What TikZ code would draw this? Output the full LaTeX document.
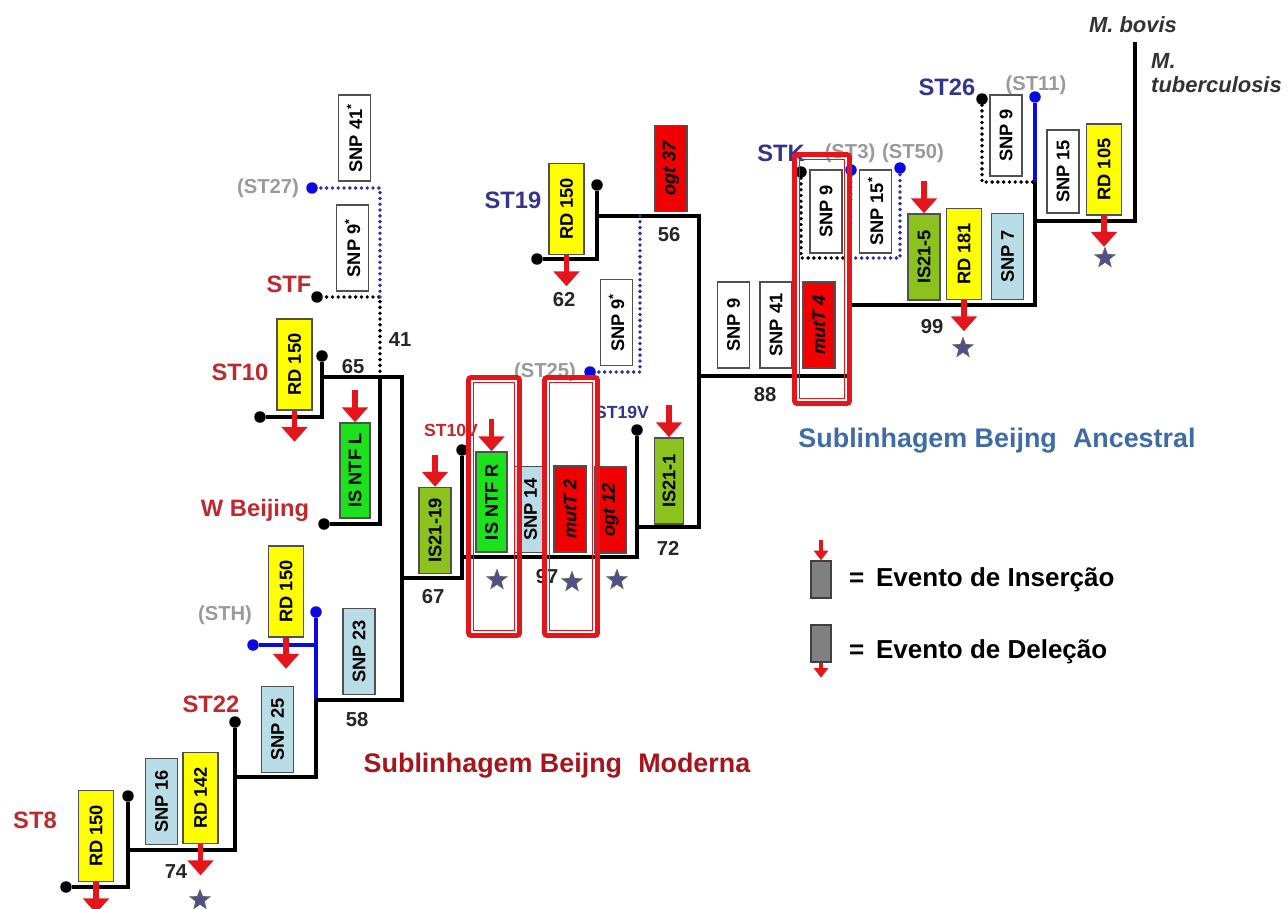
\documentclass[tikz,border=0pt]{standalone}
\usepackage{fontspec}
\setmainfont{Liberation Sans}
\usepackage{tikz}
\usetikzlibrary{arrows.meta,shapes.geometric}
\definecolor{stred}{HTML}{C0282D}
\definecolor{stnavy}{HTML}{34348F}
\definecolor{stgray}{HTML}{9A9A9A}
\definecolor{rdyellow}{HTML}{FFFF00}
\definecolor{snpblue}{HTML}{B8DDE6}
\definecolor{isgreen}{HTML}{1BE21B}
\definecolor{isolive}{HTML}{8CC21E}
\definecolor{mutred}{HTML}{F00000}
\definecolor{boxedge}{HTML}{505050}
\definecolor{dotblue}{HTML}{3030A8}
\definecolor{lineblue}{HTML}{0A0AE0}
\definecolor{starblue}{HTML}{4F4F8C}
\definecolor{modred}{HTML}{A8141C}
\definecolor{ancblue}{HTML}{3F6BA6}
\definecolor{hlred}{HTML}{E5161B}
\newcommand{\boxfont}{\fontsize{10.4}{12}\selectfont\bfseries}
\newcommand{\labfont}{\fontsize{13.5}{15}\selectfont\bfseries}

\begin{document}
\begin{tikzpicture}[x=0.02cm,y=-0.02cm,
    box/.style={draw=boxedge,line width=0.9pt,rotate=90,minimum width=1.72cm,
      minimum height=0.64cm,inner sep=0pt,font=\boxfont},
    rd/.style={box,fill=rdyellow,minimum width=1.82cm,minimum height=0.7cm},
    snp/.style={box,fill=white},
    snpb/.style={box,fill=snpblue},
    isg/.style={box,fill=isgreen},
    iso/.style={box,fill=isolive},
    mut/.style={box,fill=mutred,font=\boxfont\itshape},
    leaf/.style={circle,fill=black,inner sep=0pt,minimum size=0.23cm},
    bleaf/.style={leaf,fill=lineblue},
    branch/.style={line width=2.3pt},
    bbranch/.style={branch,lineblue},
    dotbranch/.style={line width=2.2pt,line cap=round,dash pattern=on 0pt off 3.3pt},
    bdotbranch/.style={dotbranch,dotblue},
    delarrow/.style={draw=hlred,line width=2.9pt,-{Triangle[width=14.5pt,length=8.5pt]}},
    insarrow/.style={delarrow},
    legarrow/.style={draw=hlred,line width=1.8pt,-{Triangle[width=8pt,length=5.5pt]}},
    legbox/.style={draw=black!75,line width=0.8pt,fill=black!50,minimum width=0.4cm,
      minimum height=0.74cm,inner sep=0pt},
    sstar/.style={star,star points=5,star point ratio=2.4,fill=starblue,draw=black!60,
      line width=0.4pt,minimum size=0.42cm,inner sep=0pt},
    redlab/.style={text=stred,font=\labfont},
    navylab/.style={text=stnavy,font=\labfont},
    graylab/.style={text=stgray,font=\fontsize{11.5}{13}\selectfont\bfseries},
    smalllab/.style={font=\fontsize{10}{12}\selectfont\bfseries},
    num/.style={text=black!85,font=\fontsize{11.5}{13}\selectfont\bfseries},
    hlout/.style={draw=hlred,line width=2.8pt,rounded corners=1.5pt},
    hlin/.style={draw=hlred,line width=0.8pt}]
  \fill[white] (0,0) rectangle (1288,909);
  \useasboundingbox (0,0) rectangle (1288,909);

  % leaves
  \node[leaf] (st8a) at (66,887) {};
  \node[leaf] (st8b) at (128,796) {};
  \node[leaf] (st22) at (235,722) {};
  \node[bleaf] (sthb) at (316,612) {};
  \node[bleaf] (stha) at (253,645) {};
  \node[leaf] (st10a) at (260,417) {};
  \node[leaf] (st10b) at (322,356) {};
  \node[leaf] (wbj) at (324,524) {};
  \node[leaf] (stf) at (317,297) {};
  \node[bleaf] (st27) at (312,188) {};
  \node[leaf] (st10v) at (462,450) {};
  \node[leaf] (st19v) at (637,430) {};
  \node[leaf] (st19a) at (537,259) {};
  \node[leaf] (st19b) at (597,185) {};
  \node[bleaf] (st25) at (590,372) {};
  \node[leaf] (stk) at (801,172) {};
  \node[bleaf] (st3) at (851,170) {};
  \node[bleaf] (st50) at (900,168) {};
  \node[leaf] (st26) at (982,99) {};
  \node[bleaf] (st11) at (1035,97) {};
  \coordinate (mtb) at (1135,42);

  % junctions
  \coordinate (j74) at (128,850);
  \coordinate (j22) at (235,777);
  \coordinate (j58) at (316,700);
  \coordinate (jh) at (316,645);
  \coordinate (j65) at (402,377);
  \coordinate (j10) at (322,377);
  \coordinate (jwb) at (380,377);
  \coordinate (j41) at (380,297);
  \coordinate (j67) at (402,578);
  \coordinate (j97) at (462,557);
  \coordinate (j72) at (637,527);
  \coordinate (j56) at (699,216);
  \coordinate (j19) at (597,216);
  \coordinate (j25) at (640,216);
  \coordinate (j88) at (699,376);
  \coordinate (j99) at (850,305);
  \coordinate (jk) at (850,258);
  \coordinate (jroot) at (1035,305);
  \coordinate (j26) at (1035,182);
  \coordinate (jmb) at (1035,221);

  % tree
  \draw[branch] (st8a) -| (st8b);
  \draw[branch] (j74) -| (st22);
  \draw[branch] (j22) -| (j58);
  \draw[bbranch] (j58) -- (sthb);
  \draw[bbranch] (stha) -- (jh);
  \draw[branch] (j58) -| (j65) -- (j10);
  \draw[branch] (st10a) -| (st10b);
  \draw[branch] (wbj) -| (jwb);
  \draw[dotbranch] (jwb) |- (stf);
  \draw[bdotbranch] (j41) |- (st27);
  \draw[branch] (j67) -| (st10v);
  \draw[branch] (j97) -| (st19v);
  \draw[branch] (j72) -| (j56) -- (j19);
  \draw[branch] (st19a) -| (st19b);
  \draw[bdotbranch] (j25) |- (st25);
  \draw[branch] (j88) -| (j99) -- (jroot) -- (j26);
  \draw[dotbranch] (stk) |- (jk);
  \draw[bdotbranch] (jk) -| (st50);
  \draw[bdotbranch] (st3) -- (jk);
  \draw[dotbranch] (jk) -- (j99);
  \draw[dotbranch] (st26) |- (j26);
  \draw[bbranch] (st11) -- (j26);
  \draw[branch] (jmb) -| (mtb);

  % markers
  \node[rd] (rd8) at (96,836) {RD 150};
  \node[snpb] (snp16) at (161.5,801.5) {SNP 16};
  \node[rd] (rd142) at (200.5,798) {RD 142};
  \node[snpb] (snp25) at (277.5,729.5) {SNP 25};
  \node[rd] (rdh) at (286,591.5) {RD 150};
  \node[snpb] (snp23) at (359,651.5) {SNP 23};
  \node[rd] (rd10) at (294.5,364.5) {RD 150};
  \node[isg,minimum width=1.9cm,minimum height=0.6cm] (ntfl) at (355,470.5) {IS NTF L};
  \node[snp] (snp41s) at (354.5,138) {SNP 41\textsuperscript{*}};
  \node[snp] (snp9s) at (352.5,248) {SNP 9\textsuperscript{*}};
  \node[iso] (is19) at (435,530.5) {IS21-19};
  \node[isg,minimum width=2cm,minimum height=0.62cm] (ntfr) at (491.5,502) {IS NTF R};
  \node[snpb] (snp14) at (530.5,509.5) {SNP 14};
  \node[mut] (mut2) at (570,509) {mutT 2};
  \node[mut] (ogt12) at (610.5,510) {ogt 12};
  \node[iso,minimum height=0.58cm] (is1) at (669,481) {IS21-1};
  \node[rd] (rd19) at (566.5,209) {RD 150};
  \node[mut] (ogt37) at (671,168.5) {ogt 37};
  \node[snp] (snp9m) at (616.5,322.5) {SNP 9\textsuperscript{*}};
  \node[snp] (snp9k) at (733.5,325) {SNP 9};
  \node[snp] (snp41) at (776,325) {SNP 41};
  \node[mut] (mut4) at (819,325) {mutT 4};
  \node[snp,minimum width=1.66cm] (snp9u) at (826,211.5) {SNP 9};
  \node[snp,minimum width=1.66cm] (snp15s) at (875.5,211.5) {SNP 15\textsuperscript{*}};
  \node[iso] (is5) at (924,257) {IS21-5};
  \node[rd] (rd181) at (964,254) {RD 181};
  \node[snpb] (snp7) at (1007.5,256.5) {SNP 7};
  \node[snp,minimum width=1.62cm] (snp926) at (1006,135.5) {SNP 9};
  \node[snp,minimum width=1.66cm] (snp15) at (1063,171.5) {SNP 15};
  \node[rd] (rd105) at (1104,169.5) {RD 105};

  % deletions and insertions
  \foreach \b in {rd8,rd142,rdh,rd10,rd19,rd181,rd105}
    \draw[delarrow] (\b.west) -- ([yshift=-0.62cm]\b.west);
  \foreach \b in {ntfl,is19,ntfr,is1,is5}
    \draw[insarrow] ([yshift=0.64cm]\b.east) -- (\b.east);
  \foreach \p [count=\i] in {(200,900),(497,580),(572,582),(617,580),(963,348),(1105,258)}
    \node[sstar] (star\i) at \p {};

  % labels
  \node[redlab] (lst8) at (35,820) {ST8};
  \node[redlab] (lst22) at (211,704) {ST22};
  \node[graylab] (lsth) at (225,615) {(STH)};
  \node[redlab] (lst10) at (240,372) {ST10};
  \node[redlab] (lwb) at (255,510) {W Beijing};
  \node[redlab] (lstf) at (289,284) {STF};
  \node[graylab] (lst27) at (268,188) {(ST27)};
  \node[smalllab,text=stred] (lst10v) at (451,430) {ST10V};
  \node[smalllab,text=stnavy] (lst19v) at (622,412) {ST19V};
  \node[graylab] (lst25) at (545,372) {(ST25)};
  \node[navylab] (lst19) at (513,200) {ST19};
  \node[navylab] (lstk) at (781,153) {STK};
  \node[graylab] (lst3) at (850,153) {(ST3)};
  \node[graylab] (lst50) at (913,153) {(ST50)};
  \node[navylab] (lst26) at (947,87) {ST26};
  \node[graylab] (lst11) at (1036,85) {(ST11)};
  \foreach \t/\x/\y in {74/176/872,58/357/720,65/353/367,41/400/340,67/433/597,
      97/547/577,72/668/548,62/564/300,56/669/235,88/765/395,99/932/327}
    \node[num] (n\t) at (\x,\y) {\t};
  \node[font=\fontsize{12.5}{14}\selectfont\bfseries\itshape,text=black!80] (lbovis) at (1133,25) {M. bovis};
  \node[font=\fontsize{12.5}{14}\selectfont\bfseries\itshape,text=black!80,anchor=west,align=left]
    (ltb) at (1145,73) {M.\\tuberculosis};
  \node[font=\fontsize{15.3}{17}\selectfont\bfseries,text=modred] (lmod) at (557,766)
    {Sublinhagem Beijng\hspace{0.6em}Moderna};
  \node[font=\fontsize{15.3}{17}\selectfont\bfseries,text=ancblue] (lanc) at (997,441)
    {Sublinhagem Beijng\hspace{0.6em}Ancestral};

  % legend
  \node[legbox] (legins) at (821,579.5) {};
  \node[legbox] (legdel) at (821,643.5) {};
  \draw[legarrow] ([yshift=0.4cm]legins.north) -- (legins.north);
  \draw[legarrow] (legdel.south) -- ([yshift=-0.3cm]legdel.south);
  \node[font=\fontsize{14.8}{17}\selectfont\bfseries,anchor=west] (legt1) at (843,580)
    {=\hspace{0.45em}Evento de Inserção};
  \node[font=\fontsize{14.8}{17}\selectfont\bfseries,anchor=west] (legt2) at (843,652)
    {=\hspace{0.45em}Evento de Deleção};

  % highlights
  \foreach \xa/\ya/\xb/\yb in {468.5/377.5/519.5/635.5,544.5/377.5/597.5/635.5,794.5/154.5/849.5/403.5}{
    \draw[hlout] (\xa,\ya) rectangle (\xb,\yb);
    \draw[hlin] (\xa+5,\ya+5) rectangle (\xb-5,\yb-5);
  }
\end{tikzpicture}
\end{document}
